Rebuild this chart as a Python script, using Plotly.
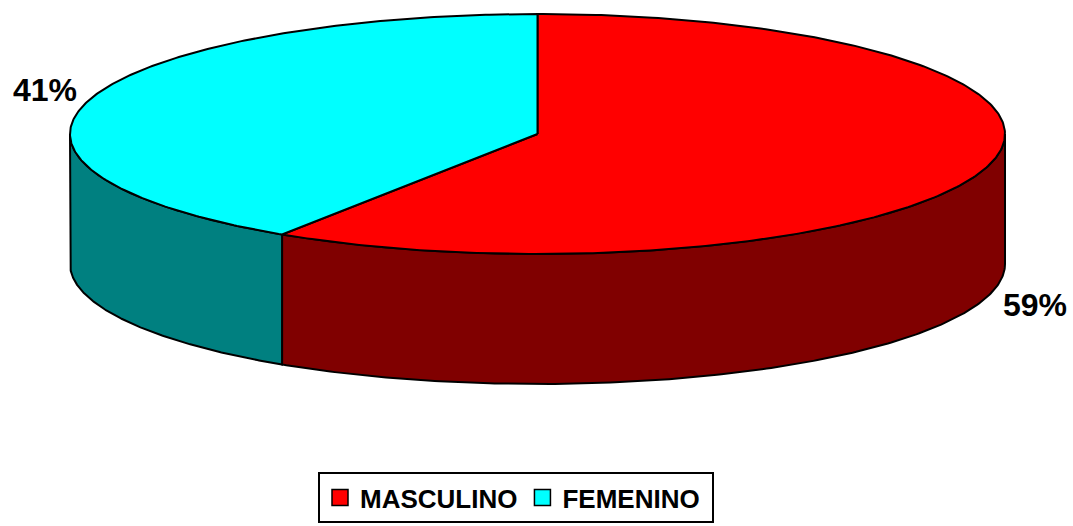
import numpy as np
import plotly.graph_objects as go

# ---- data ----
categories = ["MASCULINO", "FEMENINO"]
values = [59.2, 40.8]
top_colors = ["#FF0000", "#00FFFF"]
side_colors = ["#800000", "#008080"]

# ---- geometry (layout parameters, in pixel-like axis units) ----
W, H = 1073, 526
CX, CY = 537.5, 134.0
RX, RY = 467.5, 120.0
DEPTH = 130.0
FONT = "Liberation Sans, Arial, sans-serif"
label_nudge_x = [5, 0]
label_nudge_y = [3, -6]


def pt(theta_deg, dy=0.0):
    t = np.radians(theta_deg)
    return CX + RX * np.sin(t), CY - RY * np.cos(t) + dy


fig = go.Figure()
total = float(sum(values))
starts, ends = [], []
acc = 0.0
for v in values:
    starts.append(acc / total * 360.0)
    acc += v
    ends.append(acc / total * 360.0)

# side walls (front visible half: 90..270 deg clockwise from top)
for i, cat in enumerate(categories):
    a = max(starts[i], 90.0)
    b = min(ends[i], 270.0)
    if b <= a:
        continue
    th = np.linspace(a, b, 200)
    xt, yt = pt(th)
    xb, yb = pt(th[::-1], DEPTH)
    xs = np.concatenate([xt, xb, xt[:1]])
    ys = np.concatenate([yt, yb, yt[:1]])
    fig.add_trace(go.Scatter(x=xs, y=ys, mode="lines", fill="toself",
                             fillcolor=side_colors[i],
                             line=dict(color="black", width=2),
                             hoverinfo="skip", showlegend=False))

# top faces
for i, cat in enumerate(categories):
    th = np.linspace(starts[i], ends[i], 300)
    xt, yt = pt(th)
    xs = np.concatenate([[CX], xt, [CX]])
    ys = np.concatenate([[CY], yt, [CY]])
    fig.add_trace(go.Scatter(x=xs, y=ys, mode="lines", fill="toself",
                             fillcolor=top_colors[i],
                             line=dict(color="black", width=2),
                             hoverinfo="skip", showlegend=False))

# percentage labels
for i, cat in enumerate(categories):
    mid = (starts[i] + ends[i]) / 2.0
    t = np.radians(mid)
    lx = CX + 1.1 * RX * np.sin(t) + label_nudge_x[i]
    ly = CY - 1.1 * RY * np.cos(t) + label_nudge_y[i]
    if np.cos(t) < 0:
        ly += DEPTH
    pct = round(values[i] / total * 100)
    fig.add_annotation(x=lx, y=ly, text=f"<b>{pct}%</b>", showarrow=False,
                       font=dict(family=FONT, size=32, color="black"),
                       xanchor="center", yanchor="middle")

# legend entries
for i, cat in enumerate(categories):
    name = f"<b>{cat}</b>"
    if i == len(categories) - 1:
        name += "&nbsp;"
    fig.add_trace(go.Scatter(x=[None], y=[None], mode="markers", name=name,
                             marker=dict(symbol="square", size=16, color=top_colors[i],
                                         line=dict(color="black", width=1.5))))

fig.update_layout(
    width=W, height=H,
    margin=dict(l=0, r=0, t=0, b=0),
    paper_bgcolor="white", plot_bgcolor="white",
    xaxis=dict(range=[0, W], visible=False, fixedrange=True),
    yaxis=dict(range=[H, 0], visible=False, fixedrange=True),
    showlegend=True,
    legend=dict(orientation="h", x=516 / W, xanchor="center", y=3 / H, yanchor="bottom",
                bordercolor="black", borderwidth=2, bgcolor="white",
                font=dict(family=FONT, size=26, color="black"),
                itemwidth=30, tracegroupgap=0),
)

fig.write_html("out.html", config={"displayModeBar": False},
               post_script="document.body.style.margin='0';document.body.style.padding='0';")
